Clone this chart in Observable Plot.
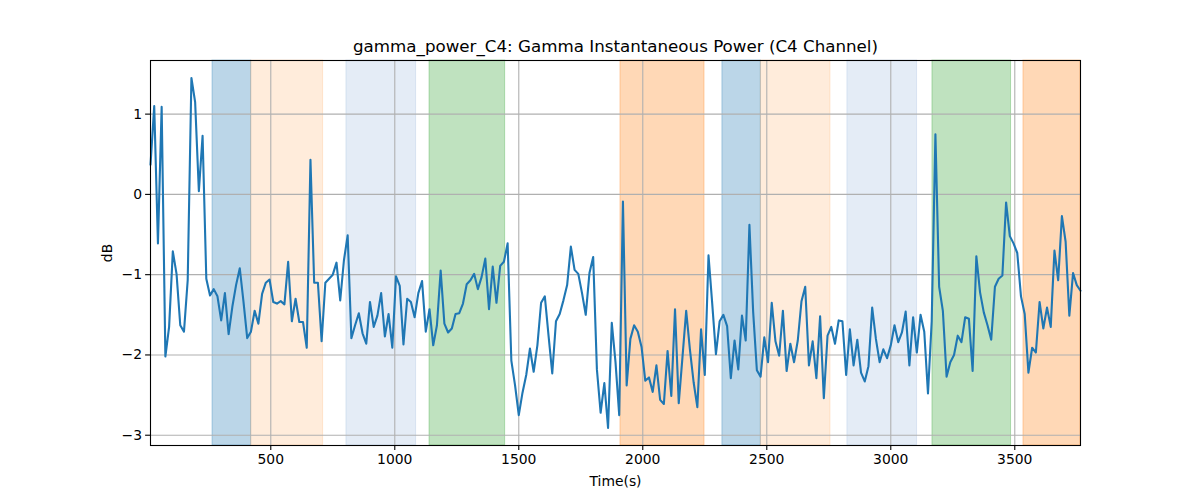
<!DOCTYPE html>
<html>
<head>
<meta charset="utf-8">
<script src="https://cdn.jsdelivr.net/npm/d3@7"></script>
<script src="https://cdn.jsdelivr.net/npm/@observablehq/plot@0.6"></script>
<style>
  body { margin: 0; background: #fff; }
  #chart svg { font-family: "DejaVu Sans", sans-serif; overflow: visible; }
</style>
</head>
<body>
<div id="chart"></div>
<script>
// sampling of the time axis (seconds)
const startTime = 15;
const stepTime = 15;

// gamma instantaneous power (dB), one value per sample
const power = [
  0.37, 1.10, -0.61, 1.09, -2.02, -1.65, -0.71, -0.99, -1.63, -1.71,
  -1.07, 1.45, 1.15, 0.04, 0.73, -1.05, -1.26, -1.18, -1.27, -1.57,
  -1.23, -1.74, -1.40, -1.13, -0.92, -1.34, -1.79, -1.71, -1.45, -1.61,
  -1.24, -1.10, -1.06, -1.34, -1.36, -1.33, -1.37, -0.84, -1.58, -1.30,
  -1.59, -1.59, -1.91, 0.43, -1.10, -1.10, -1.83, -1.10, -1.05, -1.00,
  -0.85, -1.32, -0.82, -0.51, -1.79, -1.63, -1.48, -1.73, -1.86, -1.34,
  -1.65, -1.51, -1.23,
  -1.77, -1.49, -1.91, -1.02, -1.14, -1.87, -1.30, -1.34, -1.53, -1.23,
  -1.08, -1.71, -1.43, -1.88, -1.63, -0.95, -1.61, -1.72, -1.67, -1.49,
  -1.48, -1.36, -1.12, -1.07, -0.99, -1.18, -1.03, -0.80, -1.43, -0.90,
  -1.35, -0.89, -0.84, -0.61, -2.07, -2.38, -2.75, -2.47, -2.25, -1.92,
  -2.21, -1.88, -1.35, -1.27, -1.76, -2.23, -1.58, -1.49, -1.32, -1.13,
  -0.65, -0.94, -0.99, -1.23, -1.50, -0.98, -0.78, -2.18, -2.72, -2.35,
  -2.91,
  -1.60, -2.09, -2.75, -0.09, -2.38, -1.80, -1.63, -1.71, -1.90, -2.32,
  -2.28, -2.46, -2.13, -2.56, -2.61, -1.95, -2.51, -1.43, -2.60, -2.03,
  -1.45, -1.93, -2.34, -2.65, -1.68, -2.25, -0.76, -1.36, -1.99, -1.58,
  -1.50, -1.64, -2.29, -1.82, -2.18, -1.51, -1.82, -0.38, -1.46, -2.19,
  -2.27, -1.78, -2.09, -1.35, -1.83, -2.01, -1.45, -2.20, -1.86, -2.09,
  -1.82, -1.33, -1.15, -2.13, -1.83, -2.29, -1.52, -2.54, -1.76, -1.65,
  -1.86, -1.57,
  -1.58, -2.25, -1.68, -2.13, -1.81, -2.22, -2.33, -2.14, -1.41, -1.80,
  -2.09, -1.93, -2.04, -1.88, -1.63, -1.84, -1.72, -1.46, -2.13, -1.53,
  -1.97, -1.50, -1.71, -2.48, -1.58, 0.75, -1.15, -1.45, -2.27, -2.09,
  -2.00, -1.76, -1.84, -1.53, -1.55, -2.20, -0.77, -1.22, -1.47, -1.63,
  -1.81, -1.15, -1.05, -1.01, -0.10, -0.52, -0.61, -0.73, -1.27, -1.49,
  -2.22, -1.91, -1.97, -1.34, -1.67, -1.41, -1.65, -0.70, -1.07, -0.27,
  -0.59, -1.51, -0.98, -1.13, -1.20
];

// shaded epochs
const spanStart = [265, 421, 805, 1140, 1910, 2321, 2476, 2825, 3168, 3535];
const spanEnd   = [421, 711, 1086, 1445, 2249, 2476, 2757, 3106, 3485, 3765];
const spanColor = ["#1f77b4", "#ff7f0e", "#4a7fc4", "#2ca02c", "#ff7f0e",
                   "#1f77b4", "#ff7f0e", "#4a7fc4", "#2ca02c", "#ff7f0e"];
const spanAlpha = [0.3, 0.15, 0.15, 0.3, 0.3, 0.3, 0.15, 0.15, 0.3, 0.3];

// ticks and labels
const xTicks = [500, 1000, 1500, 2000, 2500, 3000, 3500];
const yTicks = [-3, -2, -1, 0, 1];
const titleText = "gamma_power_C4: Gamma Instantaneous Power (C4 Channel)";
const xLabel = "Time(s)";
const yLabel = "dB";

const series = power.map((v, i) => ({t: startTime + i * stepTime, v}));
const spans = spanStart.map((s, i) => ({s, e: spanEnd[i], c: spanColor[i], a: spanAlpha[i]}));

const xDomain = d3.extent(series, d => d.t);
const [vmin, vmax] = d3.extent(series, d => d.v);
const pad = (vmax - vmin) * 0.05;
const yDomain = [vmin - pad, vmax + pad];
const intFormat = d3.format("d");

const chart = Plot.plot({
  width: 1200,
  height: 500,
  marginLeft: 150,
  marginRight: 120,
  marginTop: 60,
  marginBottom: 55,
  style: {fontSize: "13.9px", fontFamily: "DejaVu Sans, sans-serif", color: "#000", background: "#fff"},
  x: {domain: xDomain, ticks: xTicks, tickFormat: intFormat},
  y: {domain: yDomain, ticks: yTicks, tickFormat: intFormat},
  marks: [
    Plot.rect(spans, {x1: "s", x2: "e", fill: d => d.c, fillOpacity: d => d.a,
                      stroke: d => d.c, strokeOpacity: d => d.a, strokeWidth: 1}),
    Plot.gridX(xTicks, {stroke: "#b0b0b0", strokeOpacity: 1, strokeWidth: 1.1}),
    Plot.gridY(yTicks, {stroke: "#b0b0b0", strokeOpacity: 1, strokeWidth: 1.1}),
    Plot.line(series, {x: "t", y: "v", stroke: "#1f77b4", strokeWidth: 2.1}),
    Plot.frame({stroke: "#000", strokeWidth: 1.1}),
    Plot.axisX(xTicks, {tickSize: 4.9, tickPadding: 3.5, strokeWidth: 1.1, label: null, tickFormat: intFormat}),
    Plot.axisY(yTicks, {tickSize: 4.9, tickPadding: 3.5, strokeWidth: 1.1, label: null, tickFormat: intFormat}),
    Plot.text([titleText], {frameAnchor: "top", dy: -8.3, lineAnchor: "bottom", fontSize: 16.7, fill: "#000"}),
    Plot.text([xLabel], {frameAnchor: "bottom", dy: 36, lineAnchor: "middle", fontSize: 13.9, fill: "#000"}),
    Plot.text([yLabel], {frameAnchor: "left", dx: -43, rotate: -90, lineAnchor: "middle", textAnchor: "middle", fontSize: 13.9, fill: "#000"})
  ]
});
document.getElementById("chart").appendChild(chart);
</script>
</body>
</html>
